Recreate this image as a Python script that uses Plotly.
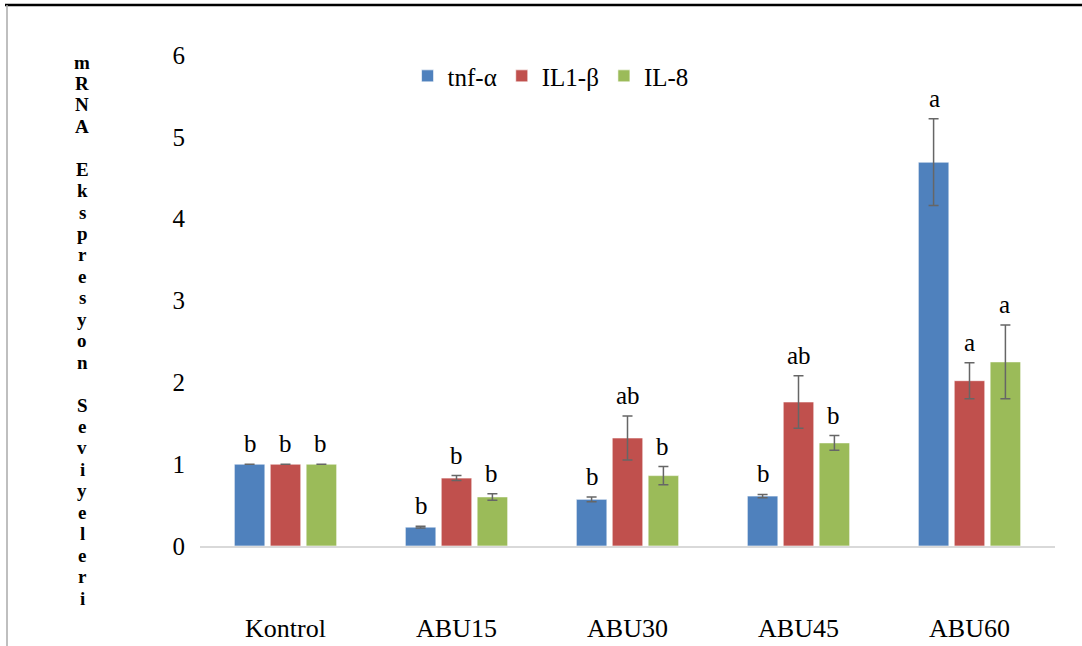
import plotly.graph_objects as go

categories = ["Kontrol", "ABU15", "ABU30", "ABU45", "ABU60"]
series_names = ["tnf-α", "IL1-β", "IL-8"]
tnf = [1.0, 0.23, 0.57, 0.61, 4.69]
tnf_err = [0.0, 0.01, 0.03, 0.02, 0.53]
il1b = [1.0, 0.83, 1.32, 1.76, 2.02]
il1b_err = [0.0, 0.03, 0.27, 0.32, 0.22]
il8 = [1.0, 0.60, 0.86, 1.26, 2.25]
il8_err = [0.0, 0.04, 0.11, 0.09, 0.45]
tnf_letters = ["b", "b", "b", "b", "a"]
il1b_letters = ["b", "b", "ab", "ab", "a"]
il8_letters = ["b", "b", "b", "b", "a"]
colors = ["#4F81BD", "#C0504D", "#9BBB59"]
y_ticks = [0, 1, 2, 3, 4, 5, 6]
y_title = "mRNA Ekspresyon Seviyeleri"

values = [tnf, il1b, il8]
errors = [tnf_err, il1b_err, il8_err]
letters = [tnf_letters, il1b_letters, il8_letters]

FONT = "Liberation Serif"

fig = go.Figure()
for name, vals, errs, col in zip(series_names, values, errors, colors):
    fig.add_trace(go.Bar(
        name=name, x=categories, y=vals,
        marker=dict(color=col, line=dict(color="rgba(255,255,255,0.6)", width=1)),
        error_y=dict(type="data", array=errs, visible=True,
                     color="#666666", thickness=1.5, width=5),
    ))

W = 1082
L, R, T, B = 200, 27, 55, 100
plot_w = W - L - R
plot_h = 646 - T - B
slot_px = plot_w / len(categories) * (1 - 0.38) / 3
annotations = []
for i, (vals, errs, lets) in enumerate(zip(values, errors, letters)):
    for c, v, e, t in zip(categories, vals, errs, lets):
        annotations.append(dict(
            x=c, y=v + e, xref="x", yref="y", text=t, showarrow=False,
            xshift=(i - 1) * slot_px, yanchor="bottom", yshift=5,
            font=dict(family=FONT, size=25, color="#000000"),
        ))

# vertical stacked y-axis title, one character per line
n_lines = len(y_title)
top_px, bot_px = 62, 598
step = (bot_px - top_px) / (n_lines - 1)
for k, ch in enumerate(y_title):
    if ch == " ":
        continue
    py = top_px + k * step
    annotations.append(dict(
        x=(82 - L) / plot_w, y=(546 - py) / plot_h, xref="paper", yref="paper",
        text="<b>" + ch + "</b>", showarrow=False, xanchor="center", yanchor="middle",
        font=dict(family=FONT, size=19, color="#000000"),
    ))

fig.update_layout(
    width=W, height=646,
    margin=dict(l=L, r=R, t=T, b=B, autoexpand=False),
    paper_bgcolor="white", plot_bgcolor="white",
    barmode="group", bargap=0.37, bargroupgap=0.15,
    font=dict(family=FONT, size=24, color="#000000"),
    showlegend=True,
    legend=dict(orientation="h", x=0.41, y=0.957, xanchor="center", yanchor="middle",
                font=dict(family=FONT, size=25), itemwidth=30,
                bgcolor="rgba(0,0,0,0)", traceorder="normal"),
    annotations=annotations,
    shapes=[
        dict(type="line", xref="paper", yref="paper",
             x0=(5 - L) / plot_w, x1=(1082 - L) / plot_w,
             y0=(546 - 5) / plot_h, y1=(546 - 5) / plot_h,
             line=dict(color="#000000", width=2.5)),
        dict(type="line", xref="paper", yref="paper",
             x0=(7 - L) / plot_w, x1=(7 - L) / plot_w,
             y0=(546 - 5) / plot_h, y1=(546 - 646) / plot_h,
             line=dict(color="#AAAAAA", width=1.5)),
    ],
)
fig.update_xaxes(showline=True, linecolor="#D9D9D9", linewidth=2, showgrid=False,
                 ticks="", ticklabelstandoff=58, automargin=False,
                 tickfont=dict(family=FONT, size=26))
fig.update_yaxes(range=[0, 6], tickvals=y_ticks, showgrid=False, zeroline=False,
                 showline=False, ticks="", ticklabelstandoff=14, automargin=False,
                 tickfont=dict(family=FONT, size=25))

fig.write_html("out.html", config={"displayModeBar": False},
               post_script="document.body.style.margin='0';document.body.style.overflow='hidden';")
